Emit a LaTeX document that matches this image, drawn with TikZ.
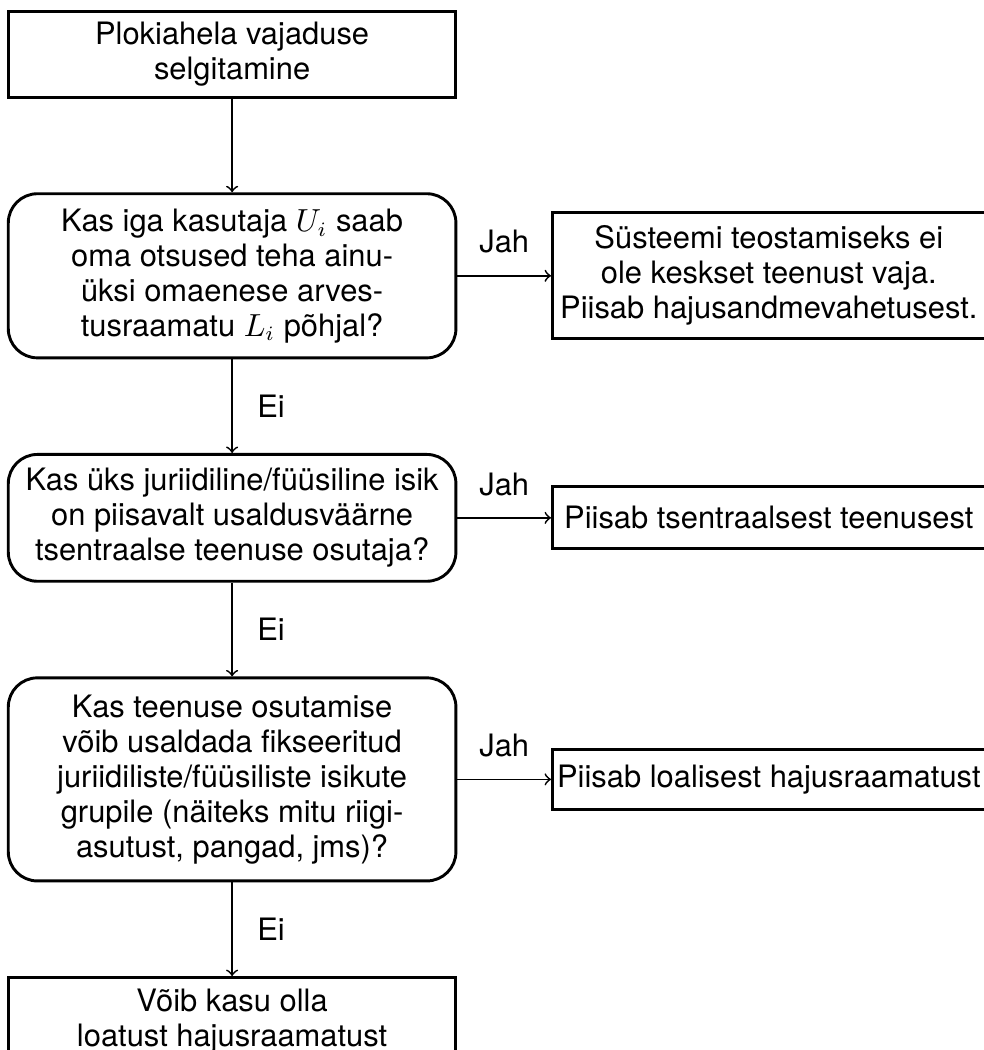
\documentclass[tikz,border=0pt]{standalone}
\usepackage{fontspec}
\setmainfont{TeX Gyre Heros}
\usetikzlibrary{positioning}
\tikzset{
  block/.style={rectangle, draw, line width=1pt, align=center, inner xsep=1pt, minimum width=5.4cm},
  decision/.style={block, rounded corners=10pt},
  answer/.style={rectangle, draw, line width=1pt, align=center, inner xsep=1pt, minimum width=5.22cm},
  line/.style={draw, semithick, ->},
}

\begin{document}
\begin{tikzpicture}[node distance=1.13cm, font=\fontsize{10.6}{12}\selectfont]
\useasboundingbox (0,0) rectangle (11.87,-12.667);
\node[block, minimum height=1.03cm] (start) at (2.8,-0.657) {Plokiahela vajaduse\\selgitamine};
% kusimused
\node[decision, below=of start, minimum height=1.98cm] (local) {Kas iga kasutaja $U_i$ saab\\oma otsused teha ainu-\\üksi omaenese arves-\\tusraamatu $L_i$ põhjal?};
\node[decision, below=of local, minimum height=1.53cm] (single) {Kas üks juriidiline/füüsiline isik\\on piisavalt usaldusväärne\\tsentraalse teenuse osutaja?};
\node[decision, below=of single, minimum height=2.45cm] (group) {Kas teenuse osutamise\\võib usaldada fikseeritud\\juriidiliste/füüsiliste isikute\\grupile (näiteks mitu riigi-\\asutust, pangad, jms)?};
\node[block, below=of group, minimum height=1.06cm] (public) {Võib kasu olla\\loatust hajusraamatust};
% vastused
\node[answer, right=of local, minimum height=1.52cm] (nocentral) {Süsteemi teostamiseks ei\\ole keskset teenust vaja.\\Piisab hajusandmevahetusest.};
\node[answer, right=of single, minimum height=0.75cm] (central) {Piisab tsentraalsest teenusest};
\node[answer, right=of group, minimum height=0.72cm] (permissioned) {Piisab loalisest hajusraamatust};

\path[line] (start) -- (local);
\path[line] (local) -- node[above=4pt] {Jah} (nocentral);
\path[line] (local) -- node[right=5pt] {Ei} (single);
\path[line] (single) -- node[above=4pt] {Jah} (central);
\path[line] (single) -- node[right=5pt] {Ei} (group);
\path[line] (group) -- node[above=4pt] {Jah} (permissioned);
\path[line] (group) -- node[right=5pt] {Ei} (public);
\end{tikzpicture}
\end{document}
